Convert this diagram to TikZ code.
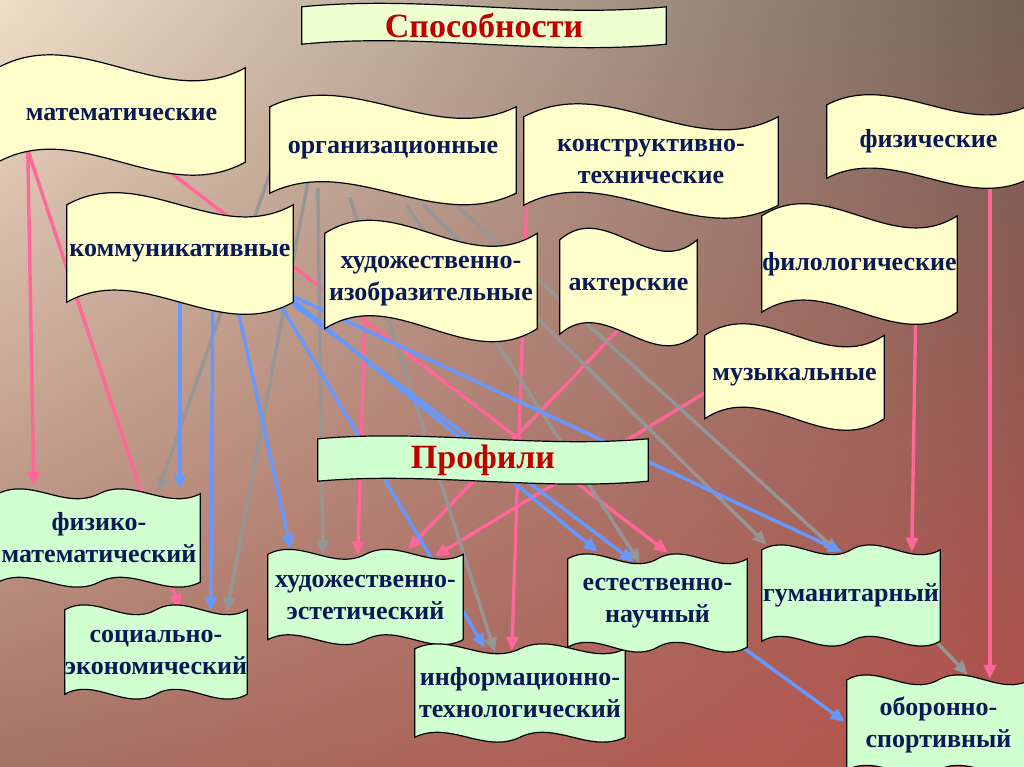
\documentclass[tikz,border=0pt]{standalone}
\usepackage{fontspec}
\setmainfont{Liberation Serif}
\usetikzlibrary{arrows.meta,calc,shadings}
\pgfdeclarelayer{bg}
\pgfdeclarelayer{links}
\pgfdeclarelayer{flags}
\pgfsetlayers{bg,links,flags,main}
\definecolor{navy}{RGB}{10,25,85}
\definecolor{titlered}{RGB}{192,0,0}
\definecolor{abilfill}{RGB}{255,255,204}
\definecolor{proffill}{RGB}{208,255,208}
\definecolor{headfill}{RGB}{238,255,208}
\definecolor{pinkln}{RGB}{255,102,153}
\definecolor{blueln}{RGB}{102,153,255}
\definecolor{grayln}{RGB}{150,150,150}
\definecolor{bgul}{RGB}{238,222,200}
\definecolor{bgur}{RGB}{115,98,88}
\definecolor{bgll}{RGB}{165,115,100}
\definecolor{bglr}{RGB}{182,80,75}

\newcommand\wave[3]{%
  \path[flagedge,fill=#3] (#1.north west)
    .. controls ($(#1.north west)!0.333!(#1.north east)+(0,-#2)$) and ($(#1.north west)!0.667!(#1.north east)+(0,#2)$) .. (#1.north east)
    -- (#1.south east)
    .. controls ($(#1.south west)!0.667!(#1.south east)+(0,#2)$) and ($(#1.south west)!0.333!(#1.south east)+(0,-#2)$) .. (#1.south west)
    -- cycle;}
\newcommand\dwave[3]{%
  \path[flagedge,fill=#3] (#1.north west)
    .. controls ($(#1.north west)!0.167!(#1.north east)+(0,-#2)$) and ($(#1.north west)!0.333!(#1.north east)+(0,#2)$) .. ($(#1.north west)!0.5!(#1.north east)$)
    .. controls ($(#1.north west)!0.667!(#1.north east)+(0,-#2)$) and ($(#1.north west)!0.833!(#1.north east)+(0,#2)$) .. (#1.north east)
    -- (#1.south east)
    .. controls ($(#1.south west)!0.833!(#1.south east)+(0,#2)$) and ($(#1.south west)!0.667!(#1.south east)+(0,-#2)$) .. ($(#1.south west)!0.5!(#1.south east)$)
    .. controls ($(#1.south west)!0.333!(#1.south east)+(0,#2)$) and ($(#1.south west)!0.167!(#1.south east)+(0,-#2)$) .. (#1.south west)
    -- cycle;}

\begin{document}
\begin{tikzpicture}[x=1pt,y=-1pt,
  flagtext/.style={inner sep=0pt,align=center,text=navy,font=\fontsize{26}{32}\selectfont\bfseries},
  titletext/.style={inner sep=0pt,text=titlered,font=\fontsize{34}{40}\selectfont\bfseries},
  flagedge/.style={draw=black,line width=1.2pt},
  link/.style={line width=3.4pt,-{Triangle[length=14pt,width=12pt]}},
  pinklink/.style={link,pinkln},
  bluelink/.style={link,blueln},
  graylink/.style={link,grayln}]
  \useasboundingbox (0,0) rectangle (1024,767);
  \begin{pgfonlayer}{bg}
    \shade[upper left=bgul,upper right=bgur,lower left=bgll,lower right=bglr]
      (0,0) rectangle (1024,767);
  \end{pgfonlayer}

  \node[titletext,minimum width=364,minimum height=37] (sposob) at (484,25.5) {Способности};
  \node[flagtext,minimum width=247,minimum height=94] (mat) at (121.5,115) {математические};
  \node[flagtext,minimum width=246,minimum height=86] (org) at (393,150) {организационные};
  \node[flagtext,minimum width=254,minimum height=88] (kon) at (651,161) {конструктивно-\\технические};
  \node[flagtext,minimum width=203,minimum height=73] (fiz) at (928.5,141.5) {физические};
  \node[flagtext,minimum width=226,minimum height=97] (kom) at (180,253.5) {коммуникативные};
  \node[flagtext,minimum width=212,minimum height=95] (hud) at (431,281) {художественно-\\изобразительные};
  \node[flagtext,minimum width=137,minimum height=94] (akt) at (628.5,287) {актерские};
  \node[flagtext,minimum width=195,minimum height=96] (fil) at (859.5,264) {филологические};
  \node[flagtext,minimum width=179,minimum height=83] (muz) at (794.5,377) {музыкальные};
  \node[titletext,minimum width=330,minimum height=42] (prof) at (483,460) {Профили};
  \node[flagtext,minimum width=202,minimum height=88] (fm) at (99,538) {физико-\\математический};
  \node[flagtext,minimum width=178,minimum height=84] (se) at (156,652) {социально-\\экономический};
  \node[flagtext,minimum width=195,minimum height=85] (he) at (365.5,597) {художественно-\\эстетический};
  \node[flagtext,minimum width=210,minimum height=88] (it) at (520,693) {информационно-\\технологический};
  \node[flagtext,minimum width=179,minimum height=88] (en) at (657.5,603) {естественно-\\научный};
  \node[flagtext,minimum width=178,minimum height=91] (gum) at (851,595.5) {гуманитарный};
  \node[flagtext,minimum width=183,minimum height=90] (obo) at (938.5,725) {оборонно-\\спортивный};

  \begin{pgfonlayer}{flags}
    \wave{sposob}{12}{headfill}
    \wave{prof}{10}{proffill}
    \foreach \n/\c in {mat/45,org/40,kon/45,fiz/35,kom/42,hud/45,akt/40,fil/42,muz/40}
      {\wave{\n}{\c}{abilfill}}
    \foreach \n in {fm,se,he,it,en,gum,obo}
      {\dwave{\n}{17}{proffill}}
  \end{pgfonlayer}

  \begin{pgfonlayer}{links}
    \draw[pinklink] ([shift={(30,-12)}]mat.south west) -- ([shift={(36,-8)}]fm.north west);
    \draw[pinklink] ([shift={(30,-12)}]mat.south west) -- ([shift={(115,-1)}]se.north west);
    \draw[pinklink] ([shift={(167,6)}]mat.south west) -- ([shift={(100,-6)}]en.north west);
    \draw[graylink] ([shift={(2,-25)}]org.south west) -- ([shift={(160,-2)}]fm.north west);
    \draw[bluelink] ([shift={(113,-7)}]kom.south west) -- ([shift={(182,-5)}]fm.north west);
    \draw[bluelink] ([shift={(146,-7)}]kom.south west) -- ([shift={(146,1)}]se.north west);
    \draw[graylink] ([shift={(38,-11)}]org.south west) -- ([shift={(162,2)}]se.north west);
    \draw[bluelink] ([shift={(170,3)}]kom.south west) -- ([shift={(23,-5)}]he.north west);
    \draw[graylink] ([shift={(48,-5)}]org.south west) -- ([shift={(55,0)}]he.north west);
    \draw[pinklink] ([shift={(40,-12)}]hud.south west) -- ([shift={(90,1)}]he.north west);
    \draw[pinklink] ([shift={(63,-9)}]akt.south west) -- ([shift={(140,-5)}]he.north west);
    \draw[pinklink] ([shift={(7,-30)}]muz.south west) -- ([shift={(167,2)}]he.north west);
    \draw[bluelink] ([shift={(211,-2)}]kom.south west) -- ([shift={(70,-1)}]it.north west);
    \draw[graylink] ([shift={(80,4)}]org.south west) -- ([shift={(80,3)}]it.north west);
    \draw[pinklink] ([shift={(3,-5)}]kon.south west) -- ([shift={(97,2)}]it.north west);
    \draw[graylink] ([shift={(137,12)}]org.south west) -- ([shift={(72,4)}]en.north west);
    \draw[bluelink] ([shift={(224,-4)}]kom.south west) -- ([shift={(30,-7)}]en.north west);
    \draw[bluelink] ([shift={(226,2)}]kom.south west) -- ([shift={(66,3)}]en.north west);
    \draw[graylink] ([shift={(153,12)}]org.south west) -- ([shift={(5,-5)}]gum.north west);
    \draw[graylink] ([shift={(170,-3)}]org.south west) -- ([shift={(76,2)}]gum.north west);
    \draw[bluelink] ([shift={(226,-6)}]kom.south west) -- ([shift={(80,2)}]gum.north west);
    \draw[pinklink] ([shift={(154,-5)}]fil.south west) -- ([shift={(150,2)}]gum.north west);
    \draw[graylink] ([shift={(170,-4)}]gum.south west) -- ([shift={(121,-5)}]obo.north west);
    \draw[pinklink] ([shift={(163,-2)}]fiz.south west) -- ([shift={(143,-1)}]obo.north west);
    \draw[bluelink] ([shift={(172,-2)}]en.south west) -- ([shift={(-2,42)}]obo.north west);
  \end{pgfonlayer}
\end{tikzpicture}
\end{document}
